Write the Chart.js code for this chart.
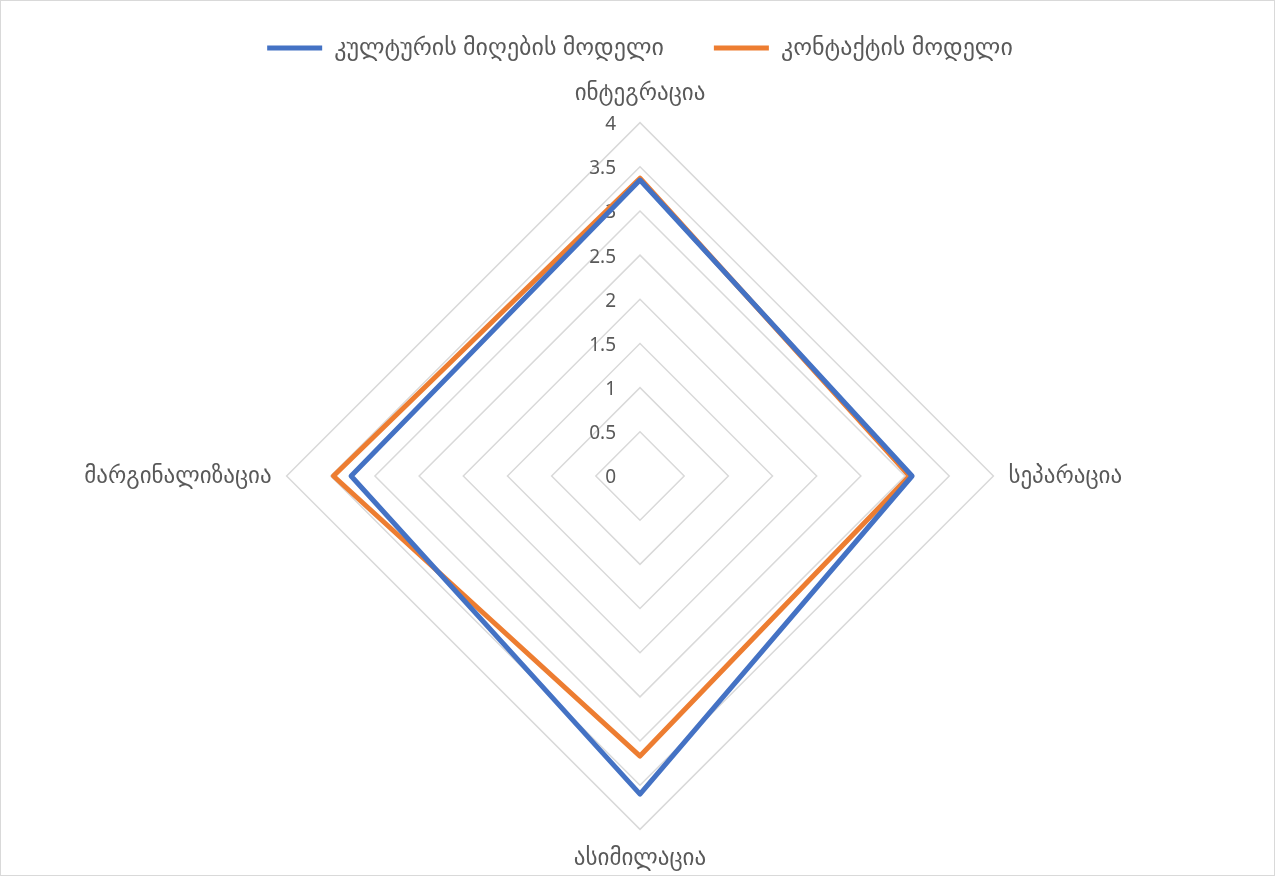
<!DOCTYPE html>
<html>
<head>
<meta charset="utf-8">
<script src="https://cdn.jsdelivr.net/npm/chart.js@4.4.1/dist/chart.umd.min.js"></script>
<style>
  html, body { margin: 0; padding: 0; background: #fff; }
  #wrap { position: relative; width: 1273px; height: 874px; border: 1px solid #d9d9d9; }
</style>
</head>
<body>
<div id="wrap"><canvas id="chart"></canvas></div>
<script>
const categories = ['ინტეგრაცია', 'სეპარაცია', 'ასიმილაცია', 'მარგინალიზაცია'];
const seriesNames = ['კულტურის მიღების მოდელი', 'კონტაქტის მოდელი'];
const cultureValues = [3.35, 3.08, 3.6, 3.27];
const contactValues = [3.37, 3.05, 3.17, 3.47];
const tickValues = [0, 0.5, 1, 1.5, 2, 2.5, 3, 3.5, 4];
const tickLabels = ['0', '0.5', '1', '1.5', '2', '2.5', '3', '3.5', '4'];

const fontFamily = '"Noto Sans", "DejaVu Sans", sans-serif';
const textColor = '#595959';

// Excel puts the value labels left of the vertical axis, so draw them here
const tickLabelPlugin = {
  id: 'tickLabels',
  beforeDatasetsDraw(chart) {
    const scale = chart.scales.r;
    const ctx = chart.ctx;
    ctx.save();
    ctx.font = '19px ' + fontFamily;
    ctx.fillStyle = textColor;
    ctx.textAlign = 'right';
    ctx.textBaseline = 'middle';
    tickValues.forEach((v, i) => {
      const y = scale.yCenter - scale.getDistanceFromCenterForValue(v);
      ctx.fillText(tickLabels[i], scale.xCenter - 24, y + 2);
    });
    ctx.restore();
  },
};

// a bit more room under the legend than Chart.js gives by default
const legendGapPlugin = {
  id: 'legendGap',
  afterInit(chart) {
    const legend = chart.legend;
    if (!legend) {
      return;
    }
    const fit = legend.fit;
    legend.fit = function () {
      fit.call(this);
      this.height += 11;
    };
  },
};

new Chart(document.getElementById('chart'), {
  type: 'radar',
  data: {
    labels: categories,
    datasets: [
      {
        label: seriesNames[0],
        data: cultureValues,
        borderColor: '#4472C4',
        backgroundColor: '#4472C4',
        borderWidth: 5,
        borderJoinStyle: 'round',
        borderCapStyle: 'round',
        pointRadius: 0,
        fill: false,
      },
      {
        label: seriesNames[1],
        data: contactValues,
        borderColor: '#ED7D31',
        backgroundColor: '#ED7D31',
        borderWidth: 5,
        borderJoinStyle: 'round',
        borderCapStyle: 'round',
        pointRadius: 0,
        fill: false,
      },
    ],
  },
  options: {
    responsive: true,
    maintainAspectRatio: false,
    animation: false,
    layout: { padding: { top: -15, bottom: 2, left: 15, right: 10 } },
    plugins: {
      legend: {
        position: 'top',
        labels: {
          usePointStyle: true,
          pointStyle: 'line',
          pointStyleWidth: 55,
          color: textColor,
          font: { family: fontFamily, size: 24 },
          padding: 50,
        },
      },
      tooltip: { enabled: false },
    },
    scales: {
      r: {
        min: 0,
        max: 4,
        ticks: { stepSize: 0.5, display: false },
        grid: { color: '#d9d9d9', lineWidth: 1.5 },
        angleLines: { display: false },
        pointLabels: {
          color: textColor,
          font: { family: fontFamily, size: 23 },
          padding: 15,
        },
      },
    },
  },
  plugins: [tickLabelPlugin, legendGapPlugin],
});
</script>
</body>
</html>
